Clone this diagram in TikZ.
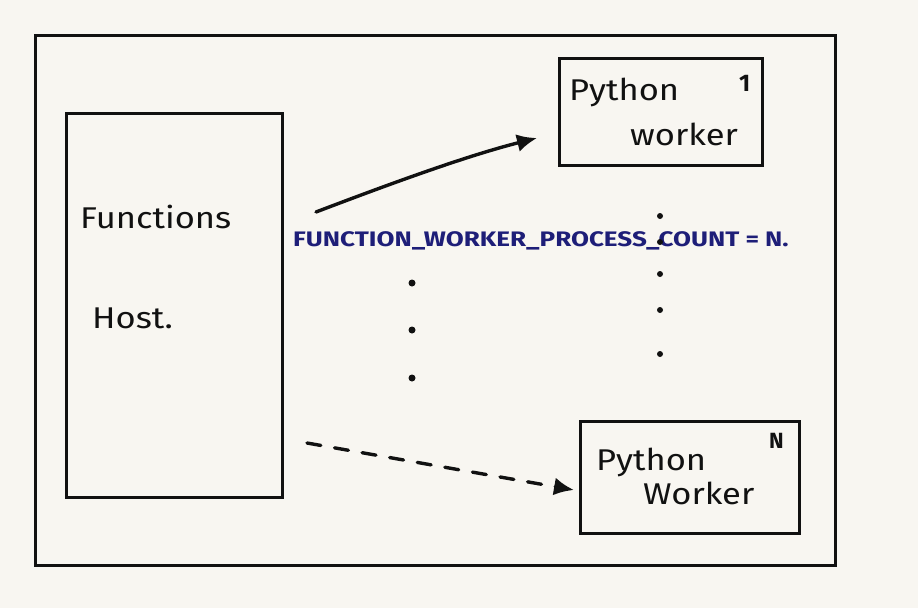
\documentclass[tikz,border=0pt]{standalone}
\usepackage{fontspec}
\setmainfont{Fira Sans}
\usetikzlibrary{arrows.meta}
\definecolor{paper}{HTML}{F8F6F1}
\definecolor{ink}{HTML}{111111}
\definecolor{blueink}{HTML}{1E1E78}
\newcommand{\handtxt}[1]{\scalebox{1.15}[1]{#1}}
\tikzset{
  box/.style={draw=ink, line width=3pt, inner sep=0pt},
  hand/.style={text=ink, inner sep=0pt, anchor=base west, font=\fontsize{30}{32}\selectfont},
  conn/.style={draw=ink, line width=3.4pt, line cap=round, -{Latex[length=20pt,width=18pt]}},
  dotmark/.style={circle, fill=ink, inner sep=0pt, minimum size=7pt},
}
\begin{document}
\begin{tikzpicture}[x=1pt,y=-1pt]
\fill[paper] (0,0) rectangle (918,608);
\useasboundingbox (0,0) rectangle (918,608);
% outer frame
\node[box, minimum width=800pt, minimum height=530pt] (frame) at (435,300) {};
% host
\node[box, minimum width=216pt, minimum height=384pt] (host) at (174,305) {};
\node[hand] (t1) at (80,228) {\handtxt{Functions}};
\node[hand] (t2) at (92,328) {\handtxt{Host.}};
% worker 1
\node[box, minimum width=203pt, minimum height=107pt] (w1) at (660.5,111.5) {};
\node[hand] (t3) at (569,100) {\handtxt{Python}};
\node[hand] (t4) at (630,145) {\handtxt{worker}};
\node[hand, font=\bfseries\fontsize{24}{26}\selectfont] (t5) at (739,91) {1};
% worker N
\node[box, minimum width=219pt, minimum height=112pt] (wN) at (689.5,477) {};
\node[hand] (t6) at (596,470) {\handtxt{Python}};
\node[hand] (t7) at (643,504) {\handtxt{Worker}};
\node[hand, font=\bfseries\fontsize{22}{24}\selectfont] (t8) at (769,448) {N};
% label
\node[text=blueink, inner sep=0pt, anchor=base west, font=\bfseries\fontsize{21}{23}\selectfont] (lbl) at (293,246) {\scalebox{1.24}[1]{FUNCTION\_WORKER\_PROCESS\_COUNT = N.}};
% dots
\foreach \y [count=\i] in {283,330,378} \node[dotmark] (da\i) at (412,\y) {};
\foreach \y [count=\i] in {216,242,274,310,354} \node[dotmark, minimum size=6pt] (db\i) at (660,\y) {};
% connectors
\coordinate (s1) at (316,212);
\coordinate (e1) at (537,138);
\draw[conn] (s1) .. controls (400,180) and (470,155) .. (e1);
\coordinate (s2) at (307,443);
\coordinate (e2) at (574,490);
\draw[conn, dash pattern=on 14pt off 14pt] (s2) -- (e2);
\end{tikzpicture}
\end{document}
